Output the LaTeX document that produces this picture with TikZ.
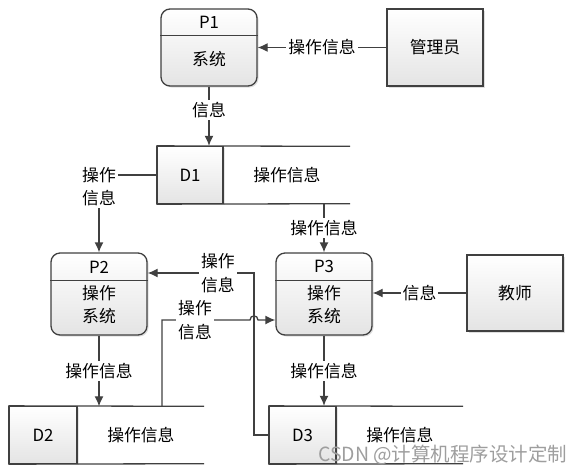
\documentclass[tikz,border=0pt]{standalone}
\usepackage{fontspec}
\setmainfont{Noto Sans CJK SC}
\usetikzlibrary{arrows.meta,shadows,calc}
\definecolor{edge}{RGB}{64,64,64}
\definecolor{boxlo}{RGB}{228,228,228}

\tikzset{
  proc/.style={draw=edge, line width=1.3pt, rounded corners=9pt, minimum width=96pt,
    top color=white, bottom color=boxlo, inner sep=0pt,
    drop shadow={shadow xshift=1.5pt, shadow yshift=-1.5pt, opacity=0.25}},
  ext/.style={draw=edge, line width=1.3pt, minimum width=96pt,
    top color=white, bottom color=boxlo, inner sep=0pt,
    drop shadow={shadow xshift=1.5pt, shadow yshift=-1.5pt, opacity=0.25}},
  idcell/.style={draw=edge, line width=1.3pt, minimum height=57pt, inner sep=0pt,
    top color=white, bottom color=boxlo,
    drop shadow={shadow xshift=1.5pt, shadow yshift=-1.5pt, opacity=0.2}},
  stxt/.style={minimum width=126pt, minimum height=57pt, inner sep=0pt},
  divline/.style={draw=edge, line width=1.3pt},
  flow/.style={draw=edge, line width=1.3pt, -{Latex[length=10pt,width=9pt]}},
  wire/.style={draw=edge, line width=1.3pt},
  lbl/.style={fill=white, inner sep=2pt, align=center},
}

\begin{document}
\begin{tikzpicture}[x=1pt, y=-1pt,
  every node/.style={font=\fontsize{16.8}{23.5}\selectfont}]
\useasboundingbox (0,0) rectangle (585,475);

% processes
\node[proc, minimum height=77pt] (p1) at (209,47.5) {};
\draw[divline] ([yshift=-27pt]p1.north west) -- ([yshift=-27pt]p1.north east);
\node (p1h) at ([yshift=-13.5pt]p1.north) {P1};
\node (p1b) at ([yshift=-51pt]p1.north) {系统};

\node[proc, minimum height=82pt] (p2) at (99,294) {};
\draw[divline] ([yshift=-28pt]p2.north west) -- ([yshift=-28pt]p2.north east);
\node (p2h) at ([yshift=-14.5pt]p2.north) {P2};
\node[align=center] (p2b) at ([yshift=-52pt]p2.north) {操作\\系统};

\node[proc, minimum height=82pt] (p3) at (324,294) {};
\draw[divline] ([yshift=-28pt]p3.north west) -- ([yshift=-28pt]p3.north east);
\node (p3h) at ([yshift=-14.5pt]p3.north) {P3};
\node[align=center] (p3b) at ([yshift=-52pt]p3.north) {操作\\系统};

% external entities
\node[ext, minimum height=77pt] (admin) at (435,47.5) {管理员};
\node[ext, minimum height=76pt] (teacher) at (515,293) {教师};

% data stores
\node[idcell, minimum width=66pt] (d1) at (190,175) {D1};
\node[stxt, anchor=west] (d1t) at (d1.east) {操作信息};
\draw[divline] (d1.north west) -- (d1t.north east);
\draw[divline] (d1.south west) -- (d1t.south east);

\node[idcell, minimum width=68pt] (d2) at (43,435) {D2};
\node[stxt, anchor=west] (d2t) at (d2.east) {操作信息};
\draw[divline] (d2.north west) -- (d2t.north east);
\draw[divline] (d2.south west) -- (d2t.south east);

\node[idcell, minimum width=67pt] (d3) at (302.5,435) {D3};
\node[stxt, anchor=west] (d3t) at (d3.east) {操作信息};
\draw[divline] (d3.north west) -- (d3t.north east);
\draw[divline] (d3.south west) -- (d3t.south east);

% flows
\draw[flow] (admin.west) -- node[lbl] {操作信息} (p1.east);
\draw[flow] (p1.south) -- node[lbl, pos=0.4] {信息} (p1.south |- d1.north);
\draw[flow] (d1.west) -| node[lbl, pos=0.5, yshift=-11.5pt] {操作\\信息} (p2.north);
\draw[flow] (d1t.south -| p3.north) -- node[lbl] {操作信息} (p3.north);
\draw[flow] (teacher.west) -- node[lbl] {信息} (teacher.west -| p3.east);
\draw[flow] (p2.south) -- node[lbl] {操作信息} (p2.south |- d2t.north);
\draw[flow] (p3.south) -- node[lbl] {操作信息} (p3.south |- d3.north);

\coordinate (bendA) at (254,273);
\draw[flow] (d3.west) -| (bendA) -- node[lbl, pos=0.34] {操作\\信息} (bendA -| p2.east);

\coordinate (bendB) at (162,320);
\coordinate (jumpA) at (250,320);
\coordinate (jumpB) at (258,320);
\draw[flow] (d2t.north -| bendB) -- (bendB) -- node[lbl, pos=0.375] {操作\\信息} (jumpA)
  .. controls (250,314.5) and (258,314.5) .. (jumpB) -- (jumpB -| p3.west);

% watermark
\node[text=black!38, anchor=east, font=\fontsize{19.5}{22}\selectfont] (mark) at (571,455)
  {CSDN @计算机程序设计定制};
\end{tikzpicture}
\end{document}
